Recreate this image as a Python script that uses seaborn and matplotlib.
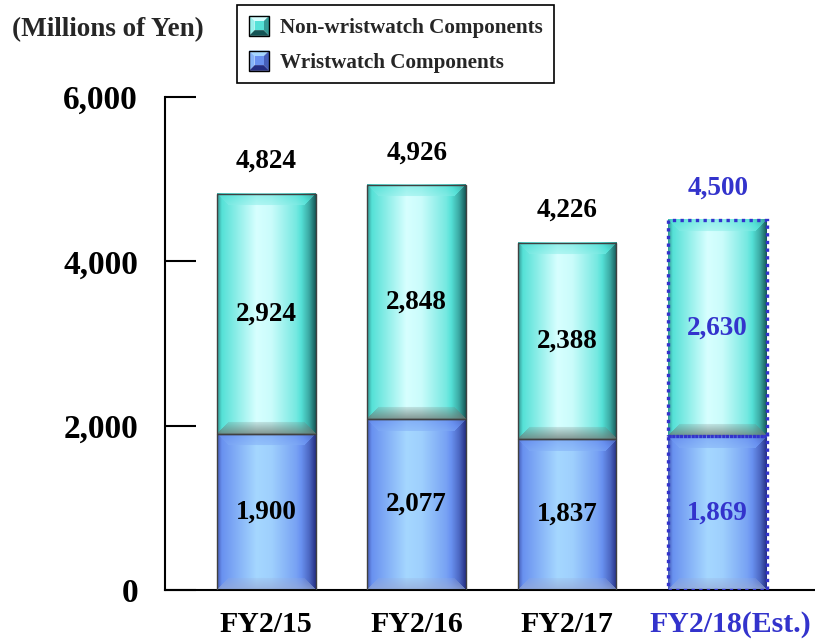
import numpy as np
import pandas as pd
import matplotlib
matplotlib.use("Agg")
import matplotlib.pyplot as plt
import seaborn as sns
from matplotlib.patches import Patch, Polygon, Rectangle
from matplotlib.legend_handler import HandlerBase

# ---- data (millions of yen) ----
categories = ["FY2/15", "FY2/16", "FY2/17", "FY2/18(Est.)"]
wristwatch = [1900, 2077, 1837, 1869]
non_wristwatch = [2924, 2848, 2388, 2630]
totals = [4824, 4926, 4226, 4500]
is_estimate = [False, False, False, True]
y_ticks = [0, 2000, 4000, 6000]

# ---- colours ----
CYAN = dict(dark=(20, 85, 85), base=(85, 225, 215), light=(215, 255, 255), edge_gray=(110, 125, 120))
BLUE = dict(dark=(35, 45, 130), base=(105, 145, 240), light=(165, 215, 255), edge_gray=(150, 170, 215))
EST_BLUE = "#3333CC"
OUTLINE = "#404040"

sns.set_theme(style="white")
plt.rcParams["font.family"] = ["Liberation Serif", "DejaVu Serif"]
plt.rcParams["font.weight"] = "bold"

fig = plt.figure(figsize=(8.15, 6.4), dpi=100)
ax = fig.add_axes([165 / 815, 50 / 640, 650 / 815, 493 / 640])

df = pd.DataFrame({"category": categories, "wrist": wristwatch, "non": non_wristwatch})
bar_width = 0.655
sns.barplot(data=df, x="category", y="wrist", color=np.array(BLUE["base"]) / 255,
            saturation=1, width=bar_width, ax=ax, errorbar=None)
sns.barplot(data=df, x="category", y="non", bottom=df["wrist"].values,
            color=np.array(CYAN["base"]) / 255, saturation=1, width=bar_width,
            ax=ax, errorbar=None)

x_lim = (-0.673, 3.647)
y_lim = (0, 6000)
ax.set_xlim(*x_lim)
ax.set_ylim(*y_lim)

px_per_x = 650 / (x_lim[1] - x_lim[0])
px_per_y = 493 / (y_lim[1] - y_lim[0])


def bevel_image(w_px, h_px, pal, bevel=12):
    """Shaded, bevelled face for one bar segment."""
    nx, ny = max(int(round(w_px)), 2), max(int(round(h_px)), 2)
    X, Y = np.meshgrid(np.arange(nx) + 0.5, np.arange(ny) + 0.5)
    u = X / nx
    bright = np.interp(u, [0, 0.05, 0.4, 0.55, 0.8, 0.93, 1.0],
                       [-0.55, 0.0, 1.0, 0.9, 0.25, -0.4, -1.0])
    dl, dr, dt, db = X, nx - X, Y, ny - Y
    top = (dt < bevel) & (dt <= dl) & (dt <= dr)
    bot = (db < bevel) & (db <= dl) & (db <= dr)
    bright = np.where(top, 0.5 * bright - 0.05 + 0.25 * (dt / bevel), bright)
    dark = np.array(pal["dark"], float)
    base = np.array(pal["base"], float)
    light = np.array(pal["light"], float)
    b = bright[..., None]
    rgb = np.where(b >= 0, base + b * (light - base), base + (-b) * (dark - base))
    g = np.where(bot, 0.2 + 0.6 * (1 - db / bevel), 0.0)[..., None]
    rgb = rgb * (1 - g) + np.array(pal["edge_gray"], float) * g
    return np.clip(rgb / 255, 0, 1)


n = len(categories)
for idx, patch in enumerate(ax.patches):
    pal = BLUE if idx < n else CYAN
    cat = idx % n
    x0, y0 = patch.get_x(), patch.get_y()
    w, h = patch.get_width(), patch.get_height()
    img = bevel_image(w * px_per_x, h * px_per_y, pal)
    ax.imshow(img, extent=[x0, x0 + w, y0, y0 + h], origin="upper",
              aspect="auto", interpolation="bilinear", zorder=2)
    patch.set_facecolor("none")
    patch.set_zorder(3)
    if is_estimate[cat]:
        patch.set_edgecolor(EST_BLUE)
        patch.set_linewidth(2.4)
        patch.set_linestyle((0, (1, 1.3)))
        patch.set_capstyle("butt")
    else:
        patch.set_edgecolor(OUTLINE)
        patch.set_linewidth(1.0)

ax.set_xlim(*x_lim)
ax.set_ylim(*y_lim)

# ---- value labels ----
VAL_SIZE = 19.5
for i in range(n):
    col = EST_BLUE if is_estimate[i] else "black"
    ax.text(i, wristwatch[i] / 2, f"{wristwatch[i]:,}", ha="center", va="center",
            fontsize=VAL_SIZE, fontweight="bold", color=col, zorder=5)
    ax.text(i, wristwatch[i] + non_wristwatch[i] / 2, f"{non_wristwatch[i]:,}",
            ha="center", va="center", fontsize=VAL_SIZE, fontweight="bold", color=col, zorder=5)
    ax.annotate(f"{totals[i]:,}", (i, wristwatch[i] + non_wristwatch[i]),
                xytext=(0, 23.5), textcoords="offset points", ha="center", va="center",
                fontsize=VAL_SIZE, fontweight="bold", color=col, zorder=5)

# ---- axes styling ----
ax.set_xlabel("")
ax.set_ylabel("")
ax.set_yticks(y_ticks)
ax.set_yticklabels([f"{v:,}" for v in y_ticks], fontsize=24, fontweight="bold")
# tick marks are hidden; the long estimate label sits a little right of its bar
label_pos = [i + (0.087 if est else 0.0) for i, est in enumerate(is_estimate)]
ax.set_xticks(label_pos)
ax.set_xticklabels(categories, fontsize=21.5, fontweight="bold")
for lbl, est in zip(ax.get_xticklabels(), is_estimate):
    lbl.set_color(EST_BLUE if est else "black")
ax.tick_params(axis="y", left=True, direction="in", length=22, width=1.5,
               pad=19.5, colors="black")
ax.tick_params(axis="x", bottom=False, pad=9)
for side in ("top", "right"):
    ax.spines[side].set_visible(False)
for side in ("left", "bottom"):
    ax.spines[side].set_color("black")
    ax.spines[side].set_linewidth(1.5)
ax.grid(False)

fig.text(12 / 815, 1 - 30 / 640, "(Millions of Yen)", ha="left", va="center",
         fontsize=19.5, fontweight="bold")


# ---- legend with bevelled swatches ----
class BevelSwatch(HandlerBase):
    def __init__(self, pal):
        super().__init__()
        self.pal = pal

    def create_artists(self, legend, orig_handle, xdescent, ydescent,
                       width, height, fontsize, trans):
        s = min(width, height)
        x0 = -xdescent + (width - s) / 2
        y0 = -ydescent + (height - s) / 2
        b = s * 0.28
        c = lambda k: np.array(self.pal[k], float) / 255
        mid = (c("base") + c("light")) / 2
        outer = [(x0, y0), (x0 + s, y0), (x0 + s, y0 + s), (x0, y0 + s)]
        inner = [(x0 + b, y0 + b), (x0 + s - b, y0 + b), (x0 + s - b, y0 + s - b), (x0 + b, y0 + s - b)]
        faces = [
            ([outer[3], outer[2], inner[2], inner[3]], c("light")),
            ([outer[0], outer[3], inner[3], inner[0]], mid),
            ([outer[1], outer[2], inner[2], inner[1]], (c("dark") + c("base")) / 2),
            ([outer[0], outer[1], inner[1], inner[0]], c("dark")),
            (inner, c("base")),
        ]
        arts = [Polygon(pts, closed=True, facecolor=fc, edgecolor="none", transform=trans)
                for pts, fc in faces]
        arts.append(Rectangle((x0, y0), s, s, facecolor="none", edgecolor="black",
                              linewidth=1.0, transform=trans))
        return arts


h_non = Patch(label="Non-wristwatch Components")
h_wr = Patch(label="Wristwatch Components")
leg = fig.legend(handles=[h_non, h_wr], loc="upper left",
                 bbox_to_anchor=(237 / 815, 1 - 5 / 640), borderaxespad=0,
                 handler_map={h_non: BevelSwatch(CYAN), h_wr: BevelSwatch(BLUE)},
                 prop={"family": ["Liberation Serif"], "weight": "bold", "size": 15.2},
                 frameon=True, fancybox=False, edgecolor="black", framealpha=1,
                 handlelength=1.1, handleheight=1.1, handletextpad=0.45,
                 labelspacing=0.6, borderpad=0.5)
leg.get_frame().set_linewidth(1.2)

fig.savefig("out.png", dpi=100)
